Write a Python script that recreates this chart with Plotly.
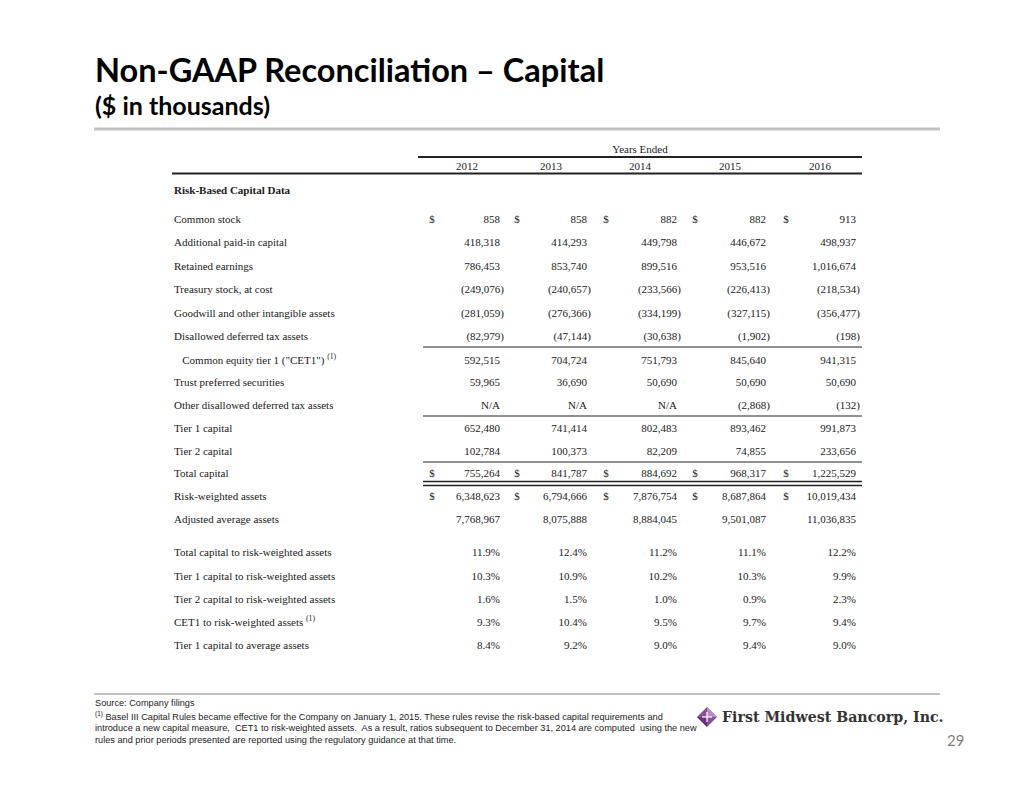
import plotly.graph_objects as go

# ---------------- data ----------------
years = ["2012", "2013", "2014", "2015", "2016"]

row_labels = [
    "Common stock",
    "Additional paid-in capital",
    "Retained earnings",
    "Treasury stock, at cost",
    "Goodwill and other intangible assets",
    "Disallowed deferred tax assets",
    "   Common equity tier 1 (\"CET1\") <sup>(1)</sup>",
    "Trust preferred securities",
    "Other disallowed deferred tax assets",
    "Tier 1 capital",
    "Tier 2 capital",
    "Total capital",
    "Risk-weighted assets",
    "Adjusted average assets",
]
dollar_rows = [0, 11, 12]

values_2012 = [858, 418318, 786453, -249076, -281059, -82979, 592515, 59965, None, 652480, 102784, 755264, 6348623, 7768967]
values_2013 = [858, 414293, 853740, -240657, -276366, -47144, 704724, 36690, None, 741414, 100373, 841787, 6794666, 8075888]
values_2014 = [882, 449798, 899516, -233566, -334199, -30638, 751793, 50690, None, 802483, 82209, 884692, 7876754, 8884045]
values_2015 = [882, 446672, 953516, -226413, -327115, -1902, 845640, 50690, -2868, 893462, 74855, 968317, 8687864, 9501087]
values_2016 = [913, 498937, 1016674, -218534, -356477, -198, 941315, 50690, -132, 991873, 233656, 1225529, 10019434, 11036835]

ratio_labels = [
    "Total capital to risk-weighted assets",
    "Tier 1 capital to risk-weighted assets",
    "Tier 2 capital to risk-weighted assets",
    "CET1 to risk-weighted assets <sup>(1)</sup>",
    "Tier 1 capital to average assets",
]
ratios_2012 = [11.9, 10.3, 1.6, 9.3, 8.4]
ratios_2013 = [12.4, 10.9, 1.5, 10.4, 9.2]
ratios_2014 = [11.2, 10.2, 1.0, 9.5, 9.0]
ratios_2015 = [11.1, 10.3, 0.9, 9.7, 9.4]
ratios_2016 = [12.2, 9.9, 2.3, 9.4, 9.0]

values_by_year = [values_2012, values_2013, values_2014, values_2015, values_2016]
ratios_by_year = [ratios_2012, ratios_2013, ratios_2014, ratios_2015, ratios_2016]

# ---------------- layout constants ----------------
W, H = 1034, 799
OFF = 8  # page body margin, so axis units equal page pixels
label_x = 174
col_right = [500, 587, 677, 766, 856]
col_dollar = [432, 517, 606, 695, 786]
col_center = [467, 551, 640, 730, 820]
row_y = [220, 243, 267, 290, 314, 337, 361, 383, 406, 429, 452, 474, 497, 520]
ratio_y = [553, 577, 600, 623, 646]
TXT = "#1a1a1a"
SERIF = "Liberation Serif, Times New Roman, serif"
FS = 11


def fmt(v):
    if v is None:
        return "N/A"
    if v < 0:
        return "({:,})".format(-v)
    return "{:,}".format(v)


fig = go.Figure()

# row labels
fig.add_trace(go.Scatter(
    x=[label_x] * (len(row_labels) + len(ratio_labels) + 1),
    y=[191] + row_y + ratio_y,
    text=["<b>Risk-Based Capital Data</b>"] + row_labels + ratio_labels,
    mode="text", textposition="middle right",
    textfont=dict(family=SERIF, size=FS, color=TXT),
    hoverinfo="skip", showlegend=False,
))

# year headers
fig.add_trace(go.Scatter(
    x=col_center, y=[167] * len(years), text=years,
    mode="text", textposition="middle center",
    textfont=dict(family=SERIF, size=FS, color=TXT),
    hoverinfo="skip", showlegend=False,
))
fig.add_trace(go.Scatter(
    x=[640], y=[150], text=["Years Ended"],
    mode="text", textposition="middle center",
    textfont=dict(family=SERIF, size=FS, color=TXT),
    hoverinfo="skip", showlegend=False,
))

# value columns
for j, vals in enumerate(values_by_year):
    xs = [col_right[j] + (4 if (v is not None and v < 0) else 0) for v in vals]
    fig.add_trace(go.Scatter(
        x=xs, y=row_y, text=[fmt(v) for v in vals],
        mode="text", textposition="middle left",
        textfont=dict(family=SERIF, size=FS, color=TXT),
        hoverinfo="skip", showlegend=False,
    ))
    fig.add_trace(go.Scatter(
        x=[col_right[j]] * len(ratios_by_year[j]), y=ratio_y,
        text=["{:.1f}%".format(r) for r in ratios_by_year[j]],
        mode="text", textposition="middle left",
        textfont=dict(family=SERIF, size=FS, color=TXT),
        hoverinfo="skip", showlegend=False,
    ))
    fig.add_trace(go.Scatter(
        x=[col_dollar[j]] * len(dollar_rows), y=[row_y[r] for r in dollar_rows],
        text=["$"] * len(dollar_rows),
        mode="text", textposition="middle center",
        textfont=dict(family=SERIF, size=FS, color=TXT),
        hoverinfo="skip", showlegend=False,
    ))

# ---------------- rules ----------------
shapes = []
def hline(x0, x1, y, w=1, c="#222222"):
    shapes.append(dict(type="line", xref="x", yref="y", x0=x0, x1=x1, y0=y, y1=y,
                       line=dict(color=c, width=w)))

hline(94, 940, 129, 3, "#c3c3c3")
hline(94, 940, 694, 2, "#c3c3c3")
hline(418, 862, 157, 2)
hline(172, 862, 173.5, 2)
hline(423, 862, 347, 1)
hline(423, 862, 416, 1)
hline(423, 862, 462, 1)
hline(423, 862, 481.5, 1.3)
hline(423, 862, 485.5, 1.3)

# logo diamond
cx, cy, r = 707, 717, 10
shapes.append(dict(type="path", xref="x", yref="y",
                   path=f"M {cx} {cy-r} L {cx+r} {cy} L {cx} {cy+r} L {cx-r} {cy} Z",
                   fillcolor="#8a4f9a", line=dict(width=0)))
shapes.append(dict(type="path", xref="x", yref="y",
                   path=f"M {cx} {cy-r} L {cx+r} {cy} L {cx} {cy} Z",
                   fillcolor="#b48cc2", line=dict(width=0)))
shapes.append(dict(type="path", xref="x", yref="y",
                   path=f"M {cx} {cy+r} L {cx-r} {cy} L {cx} {cy} Z",
                   fillcolor="#6b2f7e", line=dict(width=0)))
shapes.append(dict(type="line", xref="x", yref="y", x0=cx - r * 0.5, x1=cx + r * 0.5, y0=cy, y1=cy,
                   line=dict(color="white", width=1.2)))
shapes.append(dict(type="line", xref="x", yref="y", x0=cx, x1=cx, y0=cy - r * 0.5, y1=cy + r * 0.5,
                   line=dict(color="white", width=1.2)))

# ---------------- annotations ----------------
ann = []
def text(x, y, s, size, family, color="#000000", xanchor="left"):
    ann.append(dict(x=x, y=y, xref="x", yref="y", text=s, showarrow=False,
                    xanchor=xanchor, yanchor="middle", align="left",
                    font=dict(size=size, family=family, color=color)))

TITLE_F = "Lato, Noto Sans, sans-serif"
text(93, 69, "<b>Non-GAAP Reconciliation – Capital</b>", 32.5, TITLE_F)
text(93, 105, "<b>($ in thousands)</b>", 25, TITLE_F)

FOOT_F = "Liberation Sans, Arial, sans-serif"
FOOT_S = 9.2
text(93, 703, "Source: Company filings", FOOT_S, FOOT_F, "#222222")
text(93, 716, "<sup>(1)</sup> Basel III Capital Rules became effective for the Company on January 1, 2015. These rules revise the risk-based capital requirements and",
     FOOT_S, FOOT_F, "#222222")
text(93, 728, "introduce a new capital measure,  CET1 to risk-weighted assets.  As a result, ratios subsequent to December 31, 2014 are computed  using the new",
     FOOT_S, FOOT_F, "#222222")
text(93, 740, "rules and prior periods presented are reported using the regulatory guidance at that time.",
     FOOT_S, FOOT_F, "#222222")

text(720, 717, "<b>First Midwest Bancorp, Inc.</b>", 14.2, "DejaVu Serif, serif", "#333333")
text(955, 740, "29", 15, "Lato, sans-serif", "#7f7f7f", xanchor="center")

fig.update_layout(
    width=W, height=H,
    margin=dict(l=0, r=0, t=0, b=0),
    paper_bgcolor="white", plot_bgcolor="white",
    xaxis=dict(range=[OFF, W + OFF], visible=False, fixedrange=True),
    yaxis=dict(range=[H + OFF, OFF], visible=False, fixedrange=True),
    shapes=shapes, annotations=ann, showlegend=False,
)

fig.write_html("out.html")
